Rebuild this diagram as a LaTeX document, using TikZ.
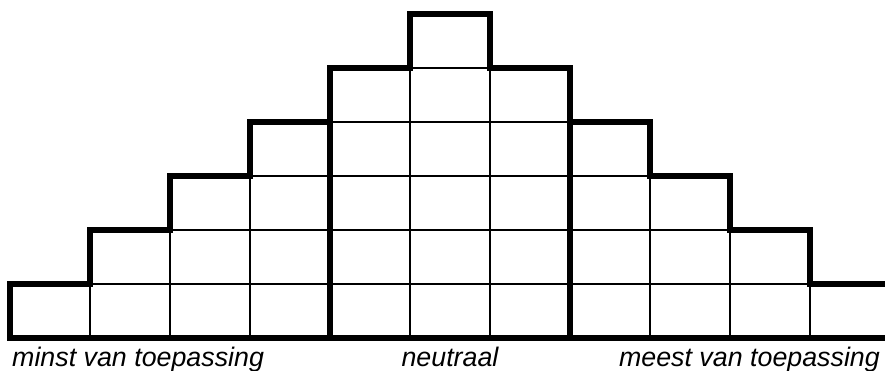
\documentclass[tikz,border=0pt]{standalone}
\usepackage{fontspec}
\setmainfont{Liberation Sans}

\begin{document}
\begin{tikzpicture}[x=1pt, y=-1pt,
        cellline/.style={line width=2.8pt},
        outline/.style={line width=6.5pt, line join=miter},
        caption/.style={font=\fontsize{26.8}{30}\selectfont\itshape, inner sep=0pt}]
    \useasboundingbox (0,0) rectangle (885,370);
    \clip (0,0) rectangle (885,370);
    % cells, column by column
    \foreach \h [count=\i from 0] in {1,2,3,4,5,6,5,4,3,2,1}
        \foreach \r in {1,...,\h}
            \draw[cellline] (10+80*\i, 338-54*\r) rectangle ++(80,54);
    % staircase outline
    \draw[outline] (10,338) -- (10,284) -- (90,284) -- (90,230) -- (170,230) -- (170,176)
        -- (250,176) -- (250,122) -- (330,122) -- (330,68) -- (410,68) -- (410,14)
        -- (490,14) -- (490,68) -- (570,68) -- (570,122) -- (650,122) -- (650,176)
        -- (730,176) -- (730,230) -- (810,230) -- (810,284) -- (890,284);
    \draw[outline] (7,338) -- (890,338);
    \draw[outline] (330,68) -- (330,338);
    \draw[outline] (570,68) -- (570,338);
    % captions
    \node[caption, anchor=base west] (least) at (12,366) {minst van toepassing};
    \node[caption, anchor=base] (neutral) at (450,366) {neutraal};
    \node[caption, anchor=base east] (most) at (880,366) {meest van toepassing};
\end{tikzpicture}
\end{document}
